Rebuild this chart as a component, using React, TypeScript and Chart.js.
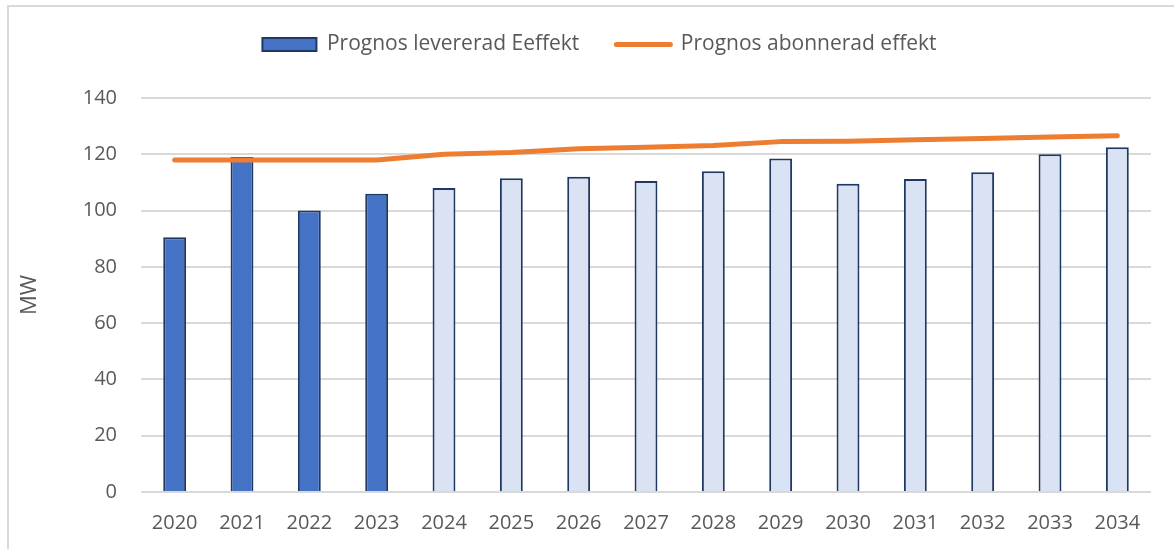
import React, { useEffect, useRef } from 'react';
import { Chart, registerables } from 'chart.js';

Chart.register(...registerables);

const years = ['2020', '2021', '2022', '2023', '2024', '2025', '2026', '2027', '2028', '2029', '2030', '2031', '2032', '2033', '2034'];
const delivered = [90.5, 119, 100, 106, 108, 111.5, 112, 110.5, 114, 118.5, 109.5, 111.2, 113.6, 120, 122.5];
const subscribed = [118, 118, 118, 118, 120, 120.6, 122, 122.5, 123.1, 124.5, 124.6, 125.2, 125.6, 126.1, 126.6];
const forecastStartIndex = 4;
const yMax = 140;
const yStep = 20;
const barLabel = 'Prognos levererad Eeffekt';
const lineLabel = 'Prognos abonnerad effekt';
const yTitle = 'MW';

const FONT = "'Open Sans', sans-serif";
const TEXT = '#595959';
const GRID = '#d9d9d9';

export default function App() {
  const ref = useRef<HTMLCanvasElement>(null);

  useEffect(() => {
    document.documentElement.style.overflow = 'hidden';
    document.body.style.overflow = 'hidden';
    const legendSpacer = {
      id: 'legendSpacer',
      beforeLayout(chart: any) {
        const lg = chart.legend;
        if (lg && !lg._spacerPatched) {
          const orig = lg.fit;
          lg.fit = function () {
            orig.call(this);
            this.height += 33;
          };
          lg._spacerPatched = true;
        }
      },
    };
    const chart = new Chart(ref.current as HTMLCanvasElement, {
      type: 'bar',
      data: {
        labels: years,
        datasets: [
          {
            type: 'line',
            label: lineLabel,
            data: subscribed,
            borderColor: '#ED7D31',
            backgroundColor: '#ED7D31',
            borderWidth: 5,
            pointRadius: 0,
            borderCapStyle: 'round',
            borderJoinStyle: 'round',
            tension: 0,
            order: 0,
          } as any,
          {
            type: 'bar',
            label: barLabel,
            data: delivered,
            backgroundColor: (ctx: any) =>
              ctx.type === 'data' && ctx.dataIndex >= forecastStartIndex ? '#DAE3F3' : '#4472C4',
            borderColor: '#203864',
            borderWidth: 2,
            barPercentage: 0.34,
            categoryPercentage: 1,
            order: 1,
          } as any,
        ],
      },
      options: {
        responsive: false,
        animation: false,
        layout: { padding: { top: -10, right: 0, bottom: 0, left: 0 } },
        plugins: {
          tooltip: { enabled: false },
          legend: {
            position: 'top',
            labels: {
              usePointStyle: true,
              pointStyleWidth: 54,
              boxHeight: 13,
              padding: 37,
              color: TEXT,
              font: { family: FONT, size: 21 },
              generateLabels: () => [
                {
                  text: barLabel,
                  fillStyle: '#4472C4',
                  strokeStyle: '#203864',
                  lineWidth: 2,
                  pointStyle: 'rect',
                  fontColor: TEXT,
                  hidden: false,
                  datasetIndex: 1,
                } as any,
                {
                  text: lineLabel,
                  fillStyle: '#ED7D31',
                  strokeStyle: '#ED7D31',
                  lineWidth: 5,
                  lineCap: 'round',
                  pointStyle: 'line',
                  fontColor: TEXT,
                  hidden: false,
                  datasetIndex: 0,
                } as any,
              ],
            },
          },
        },
        scales: {
          x: {
            offset: true,
            grid: { display: false, drawTicks: false },
            border: { display: false },
            ticks: { color: TEXT, font: { family: FONT, size: 20 }, padding: 19, maxRotation: 0 },
            afterFit: (scale: any) => {
              scale.height = 65;
            },
          },
          y: {
            min: 0,
            max: yMax,
            ticks: { stepSize: yStep, color: TEXT, font: { family: FONT, size: 20 }, padding: 24 },
            grid: { color: GRID, lineWidth: 2, drawTicks: false },
            border: { display: false },
            title: {
              display: true,
              text: yTitle,
              color: TEXT,
              font: { family: FONT, size: 22 },
              padding: { top: 8, bottom: 0 },
            },
            afterFit: (scale: any) => {
              scale.width = 132;
            },
          },
          yRightSpace: {
            position: 'right',
            display: true,
            grid: { display: false, drawTicks: false },
            border: { display: false },
            ticks: { display: false },
            afterFit: (scale: any) => {
              scale.width = 39;
            },
          },
        },
      },
      plugins: [legendSpacer],
    });
    return () => chart.destroy();
  }, []);

  return (
    <div
      style={{
        position: 'fixed',
        left: 7,
        top: 5,
        width: 1190,
        height: 570,
        border: `2px solid ${GRID}`,
        background: '#fff',
      }}
    >
      <canvas ref={ref} width={1181} height={550} style={{ display: 'block' }} />
    </div>
  );
}
